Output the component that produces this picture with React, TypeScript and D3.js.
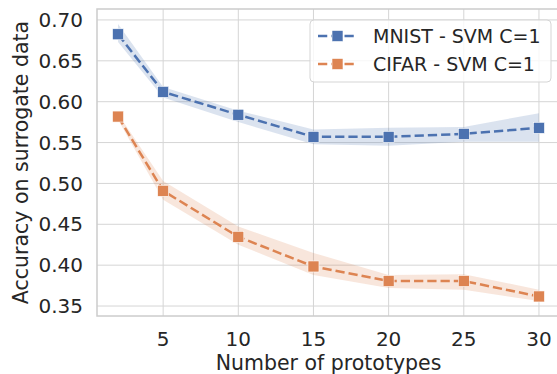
import * as d3 from "d3";
import React, { useEffect, useRef } from "react";

// number of prototypes
const prototypes = [2, 5, 10, 15, 20, 25, 30];

// MNIST - SVM C=1
const mnistMean = [0.6825, 0.612, 0.584, 0.557, 0.557, 0.5606, 0.568];
const mnistLow = [0.673, 0.605, 0.575, 0.548, 0.546, 0.551, 0.551];
const mnistHigh = [0.695, 0.618, 0.589, 0.566, 0.568, 0.569, 0.586];

// CIFAR - SVM C=1
const cifarMean = [0.5818, 0.491, 0.4347, 0.3984, 0.3806, 0.3806, 0.3617];
const cifarLow = [0.578, 0.48, 0.425, 0.388, 0.372, 0.37, 0.356];
const cifarHigh = [0.585, 0.503, 0.4473, 0.415, 0.388, 0.389, 0.37];

const xTicks = [5, 10, 15, 20, 25, 30];
const yTicks = [0.35, 0.4, 0.45, 0.5, 0.55, 0.6, 0.65, 0.7];

const seriesNames = ["MNIST - SVM C=1", "CIFAR - SVM C=1"];
const seriesColors = ["#4C72B0", "#DD8452"];

const W = 557;
const H = 374;
const font = "DejaVu Sans, sans-serif";

const App: React.FC = () => {
  const svgRef = useRef<SVGSVGElement | null>(null);

  useEffect(() => {
    const svg = d3.select(svgRef.current);
    svg.selectAll("*").remove();

    const left = 97;
    const top = 9;
    const right = 560;
    const bottom = 316;

    const x = d3.scaleLinear().domain([0.6, 31.4]).range([left, right]);
    const y = d3.scaleLinear().domain([0.3378, 0.7134]).range([bottom, top]);

    svg.append("rect").attr("width", W).attr("height", H).attr("fill", "#fff");

    // grid
    const grid = svg.append("g").attr("stroke", "#d5d5d5").attr("stroke-width", 1);
    xTicks.forEach((t) => {
      grid.append("line").attr("x1", x(t)).attr("x2", x(t)).attr("y1", top).attr("y2", bottom);
    });
    yTicks.forEach((t) => {
      grid.append("line").attr("x1", left).attr("x2", right).attr("y1", y(t)).attr("y2", y(t));
    });

    // frame
    svg
      .append("rect")
      .attr("x", left)
      .attr("y", top)
      .attr("width", right - left)
      .attr("height", bottom - top)
      .attr("fill", "none")
      .attr("stroke", "#cccccc")
      .attr("stroke-width", 1.5);

    const series = [
      { mean: mnistMean, low: mnistLow, high: mnistHigh },
      { mean: cifarMean, low: cifarLow, high: cifarHigh },
    ];

    series.forEach((s, k) => {
      const color = seriesColors[k];
      const band = d3
        .area<number>()
        .x((_, i) => x(prototypes[i]))
        .y0((_, i) => y(s.low[i]))
        .y1((_, i) => y(s.high[i]));
      svg
        .append("path")
        .attr("d", band(s.mean) as string)
        .attr("fill", color)
        .attr("fill-opacity", 0.2);

      const line = d3
        .line<number>()
        .x((_, i) => x(prototypes[i]))
        .y((d) => y(d));
      svg
        .append("path")
        .attr("d", line(s.mean) as string)
        .attr("fill", "none")
        .attr("stroke", color)
        .attr("stroke-width", 2.5)
        .attr("stroke-dasharray", "9.25,4");

      svg
        .selectAll(null)
        .data(s.mean)
        .enter()
        .append("rect")
        .attr("x", (_, i) => x(prototypes[i]) - 5.5)
        .attr("y", (d) => y(d) - 5.5)
        .attr("width", 11)
        .attr("height", 11)
        .attr("fill", color)
        .attr("stroke", "#fff")
        .attr("stroke-width", 0.6);
    });

    // tick labels
    svg
      .selectAll(null)
      .data(yTicks)
      .enter()
      .append("text")
      .attr("x", 83)
      .attr("y", (d) => y(d))
      .attr("dy", "0.36em")
      .attr("text-anchor", "end")
      .attr("font-family", font)
      .attr("font-size", 20)
      .attr("fill", "#262626")
      .text((d) => d3.format(".2f")(d));

    svg
      .selectAll(null)
      .data(xTicks)
      .enter()
      .append("text")
      .attr("x", (d) => x(d))
      .attr("y", 346)
      .attr("text-anchor", "middle")
      .attr("font-family", font)
      .attr("font-size", 20)
      .attr("fill", "#262626")
      .text((d) => String(d));

    // axis titles
    svg
      .append("text")
      .attr("x", (left + right) / 2)
      .attr("y", 370)
      .attr("text-anchor", "middle")
      .attr("font-family", font)
      .attr("font-size", 20.5)
      .attr("fill", "#262626")
      .text("Number of prototypes");

    svg
      .append("text")
      .attr("transform", `translate(28, ${(top + bottom) / 2}) rotate(-90)`)
      .attr("text-anchor", "middle")
      .attr("font-family", font)
      .attr("font-size", 20.5)
      .attr("fill", "#262626")
      .text("Accuracy on surrogate data");

    // legend
    const legend = svg.append("g");
    legend
      .append("rect")
      .attr("x", 310)
      .attr("y", 20)
      .attr("width", 241)
      .attr("height", 62)
      .attr("rx", 4)
      .attr("fill", "#fff")
      .attr("fill-opacity", 0.8)
      .attr("stroke", "#d5d5d5");

    seriesNames.forEach((name, k) => {
      const cy = 36 + k * 28;
      legend
        .append("line")
        .attr("x1", 318)
        .attr("x2", 357)
        .attr("y1", cy)
        .attr("y2", cy)
        .attr("stroke", seriesColors[k])
        .attr("stroke-width", 2.5)
        .attr("stroke-dasharray", "9.25,4");
      legend
        .append("rect")
        .attr("x", 337.5 - 5.5)
        .attr("y", cy - 5.5)
        .attr("width", 11)
        .attr("height", 11)
        .attr("fill", seriesColors[k])
        .attr("stroke", "#fff")
        .attr("stroke-width", 0.6);
      legend
        .append("text")
        .attr("x", 373)
        .attr("y", cy)
        .attr("dy", "0.36em")
        .attr("font-family", font)
        .attr("font-size", 19)
        .attr("fill", "#262626")
        .text(name);
    });
  }, []);

  return (
    <svg
      ref={svgRef}
      width={W}
      height={H}
      style={{ position: "absolute", left: 0, top: 0 }}
    ></svg>
  );
};

export default App;
